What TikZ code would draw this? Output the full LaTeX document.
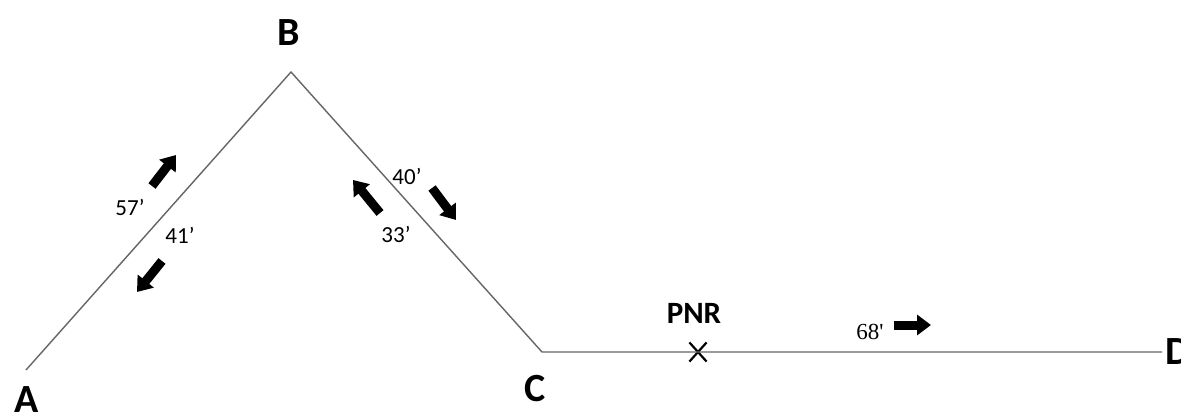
\documentclass[tikz,border=0pt]{standalone}
\usepackage{fontspec}
\setmainfont{Carlito}
\newfontfamily\serifnum{Liberation Serif}
\usetikzlibrary{shapes.misc,arrows.meta}
\newcommand{\mn}{\symbol{"27}}
\tikzset{
  route/.style={draw=black!60, line width=1.4pt},
  ptlabel/.style={font=\fontsize{40}{42}\selectfont\bfseries, inner sep=0pt},
  timelabel/.style={font=\fontsize{23}{26}\selectfont, inner sep=0pt},
  blockarrow/.style={line width=9pt, -{Triangle[length=14pt,width=20pt]}},
}
\begin{document}
\begin{tikzpicture}[x=1pt,y=-1pt]
\useasboundingbox[fill=white] (0,0) rectangle (1181,414);
\coordinate (A) at (26,370);
\coordinate (B) at (291,72);
\coordinate (C) at (542,352);
\coordinate (D) at (1162,352);
\node[draw, cross out, line width=2.2pt, minimum width=15pt, minimum height=17pt, inner sep=0pt] (pnr) at (698,352) {};
\draw[route] (A) -- (B) -- (C) -- (D);
\node[ptlabel] (lA) at (27,400) {A};
\node[ptlabel] (lB) at (289,33) {B};
\node[ptlabel] (lC) at (535,389) {C};
\node[ptlabel, anchor=west] (lD) at (1165,352) {D};
\node[font=\fontsize{31}{33}\selectfont\bfseries, inner sep=0pt] (lpnr) at (694,313) {PNR};
\node[timelabel] (t57) at (130,207) {57\mn};
\node[timelabel] (t41) at (180,235) {41\mn};
\node[timelabel] (t40) at (407,176) {40\mn};
\node[timelabel] (t33) at (396,234) {33\mn};
\node[timelabel, font=\serifnum\fontsize{23}{26}\selectfont] (t68) at (870,332) {68\mn};
\coordinate (a1s) at (152,186); \coordinate (a1e) at (176,155);
\coordinate (a2s) at (162,261); \coordinate (a2e) at (137,292);
\coordinate (a3s) at (380,213); \coordinate (a3e) at (353,180);
\coordinate (a4s) at (432,188); \coordinate (a4e) at (456,220);
\coordinate (a5s) at (894,325); \coordinate (a5e) at (931,325);
\draw[blockarrow] (a1s) -- (a1e);
\draw[blockarrow] (a2s) -- (a2e);
\draw[blockarrow] (a3s) -- (a3e);
\draw[blockarrow] (a4s) -- (a4e);
\draw[blockarrow] (a5s) -- (a5e);
\end{tikzpicture}
\end{document}
